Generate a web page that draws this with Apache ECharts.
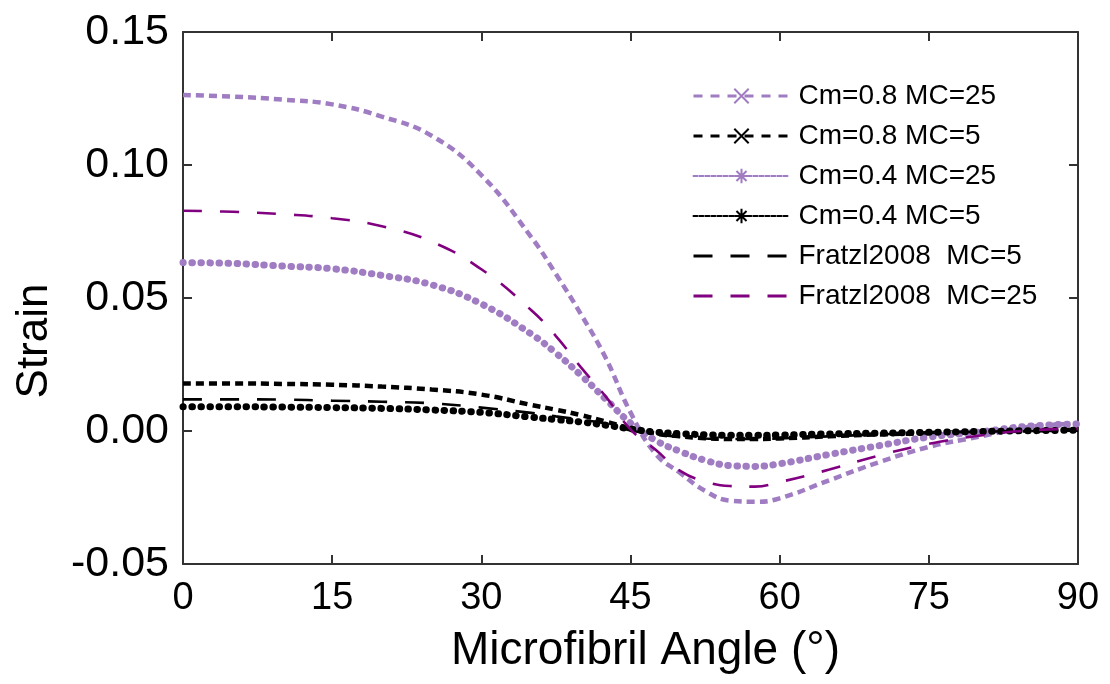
<!DOCTYPE html>
<html>
<head>
<meta charset="utf-8">
<script src="https://cdn.jsdelivr.net/npm/echarts@6/dist/echarts.min.js"></script>
<style>
  html, body { margin: 0; padding: 0; background: #fff; }
  #chart { width: 1110px; height: 684px; }
</style>
</head>
<body>
<div id="chart"></div>
<script>
// microfibril angle (deg) and strain
const angles = [0, 5, 10, 15, 20, 25, 30, 35, 37.5, 40, 42.5, 45, 47.5, 50, 52.5, 55, 57.5, 60, 65, 70, 75, 80, 85, 90];
const cm08mc25 = [0.1263, 0.1257, 0.1246, 0.1228, 0.1182, 0.1110, 0.0962, 0.0730, 0.0590, 0.0440, 0.0275, 0.0070, -0.0085, -0.0158, -0.0225, -0.0262, -0.0266, -0.0253, -0.0185, -0.0117, -0.0060, -0.0022, 0.0015, 0.0027];
const cm08mc5 = [0.0179, 0.0179, 0.0177, 0.0174, 0.0167, 0.0156, 0.0137, 0.0098, 0.0080, 0.0060, 0.0036, 0.0010, -0.0010, -0.0020, -0.0027, -0.0030, -0.0030, -0.0028, -0.0020, -0.0013, -0.0008, -0.0003, 0.0002, 0.0005];
const cm04mc25 = [0.0633, 0.0630, 0.0620, 0.0610, 0.0585, 0.0550, 0.0478, 0.0365, 0.0293, 0.0210, 0.0120, 0.0030, -0.0035, -0.0077, -0.0110, -0.0130, -0.0133, -0.0123, -0.0088, -0.0055, -0.0023, -0.0004, 0.0018, 0.0026];
const cm04mc5 = [0.0091, 0.0091, 0.0090, 0.0088, 0.0085, 0.0079, 0.0070, 0.0052, 0.0043, 0.0034, 0.0022, 0.0008, -0.0004, -0.0010, -0.0014, -0.0016, -0.0016, -0.0015, -0.0011, -0.0008, -0.0005, -0.0002, 0.0001, 0.0003];
const fratzlMc5 = [0.0119, 0.0119, 0.0118, 0.0114, 0.0110, 0.0104, 0.0088, 0.0068, 0.0055, 0.0043, 0.0028, 0.0002, -0.0012, -0.0022, -0.0028, -0.0030, -0.0030, -0.0028, -0.0020, -0.0013, -0.0007, -0.0003, 0.0000, 0.0002];
const fratzlMc25 = [0.0828, 0.0824, 0.0815, 0.0800, 0.0770, 0.0712, 0.0608, 0.0455, 0.0357, 0.0240, 0.0130, 0.0006, -0.0070, -0.0150, -0.0190, -0.0207, -0.0209, -0.0192, -0.0145, -0.0092, -0.0048, -0.0018, 0.0002, 0.0008];

const LILAC = '#a07cc2', PURPLE = '#800080', INK = '#000', AXIS = '#333';
const FONT = '"Liberation Sans", Arial, sans-serif';
const X_MARK = 'path://M0,0L10,10M10,0L0,10';
const STAR = 'path://M5,0L5,10M0,5L10,5M1.5,1.5L8.5,8.5M8.5,1.5L1.5,8.5';
const BLANK = 'path://M0,0L1,0L1,1L0,1Z';

const pts = (ys) => angles.map((a, i) => [a, ys[i]]);

function markSeries(name, ys, color, symbol, dash, width, cap) {
  return {
    name, type: 'line', data: pts(ys), smooth: 0.45,
    symbol, symbolSize: 15, showSymbol: false,
    itemStyle: { color: 'none', borderColor: color, borderWidth: 2.5 },
    lineStyle: { color, width, type: dash, cap },
  };
}
function plainSeries(name, ys, color) {
  return {
    name, type: 'line', data: pts(ys), smooth: 0.45,
    symbol: BLANK, symbolSize: 2, showSymbol: false,
    itemStyle: { color: 'rgba(0,0,0,0)', borderColor: 'rgba(0,0,0,0)', borderWidth: 0 },
    lineStyle: { color, width: 2.6, type: [19, 18] },
  };
}

const chart = echarts.init(document.getElementById('chart'));
const tickStyle = { show: true, inside: true, length: 9, lineStyle: { color: AXIS, width: 2 } };
const axisLine = { show: true, onZero: false, lineStyle: { color: AXIS, width: 2 } };

chart.setOption({
  animation: false,
  grid: { left: 183, right: 32, top: 32, bottom: 120 },
  legend: {
    orient: 'vertical', left: 687, top: 76,
    itemWidth: 96, itemHeight: 18, itemGap: 10,
    textStyle: { fontFamily: FONT, fontSize: 28, color: INK, lineHeight: 30, padding: [0, 0, 0, 4] },
    data: [
      { name: 'Cm=0.8 MC=25', lineStyle: { width: 3, type: [9, 8] } },
      { name: 'Cm=0.8 MC=5', lineStyle: { width: 3, type: [9, 8] } },
      { name: 'Cm=0.4 MC=25', lineStyle: { width: 2, type: [4, 2] } },
      { name: 'Cm=0.4 MC=5', lineStyle: { width: 2, type: [4, 2] } },
      { name: 'Fratzl2008  MC=5', lineStyle: { width: 3, type: [19, 18] } },
      { name: 'Fratzl2008  MC=25', lineStyle: { width: 3, type: [19, 18] } },
    ],
  },
  xAxis: [
    {
      type: 'value', min: 0, max: 90, interval: 15,
      name: 'Microfibril Angle (°)', nameLocation: 'middle', nameGap: 64,
      nameTextStyle: { fontFamily: FONT, fontSize: 46, color: INK, padding: [0, 0, 0, 30] },
      axisLine, axisTick: tickStyle, splitLine: { show: false },
      axisLabel: { fontFamily: FONT, fontSize: 38, color: INK, margin: 16 },
    },
    {
      type: 'value', position: 'top', min: 0, max: 90, interval: 15,
      axisLine, axisTick: tickStyle, axisLabel: { show: false }, splitLine: { show: false },
    },
  ],
  yAxis: [
    {
      type: 'value', min: -0.05, max: 0.15, interval: 0.05,
      name: 'Strain', nameLocation: 'middle', nameGap: 126,
      nameTextStyle: { fontFamily: FONT, fontSize: 44, color: INK, padding: [0, 86, 0, 0] },
      axisLine, axisTick: tickStyle, splitLine: { show: false },
      axisLabel: { fontFamily: FONT, fontSize: 43, color: INK, margin: 14, formatter: (v) => v.toFixed(2) },
    },
    {
      type: 'value', position: 'right', min: -0.05, max: 0.15, interval: 0.05,
      axisLine, axisTick: tickStyle, axisLabel: { show: false }, splitLine: { show: false },
    },
  ],
  series: [
    markSeries('Cm=0.8 MC=25', cm08mc25, LILAC, X_MARK, [8, 5], 4.5, 'butt'),
    markSeries('Cm=0.8 MC=5', cm08mc5, INK, X_MARK, [8, 5], 4.5, 'butt'),
    markSeries('Cm=0.4 MC=25', cm04mc25, LILAC, STAR, [0.5, 8.5], 7, 'round'),
    markSeries('Cm=0.4 MC=5', cm04mc5, INK, STAR, [0.5, 8.5], 7, 'round'),
    plainSeries('Fratzl2008  MC=5', fratzlMc5, INK),
    plainSeries('Fratzl2008  MC=25', fratzlMc25, PURPLE),
  ],
});
</script>
</body>
</html>
